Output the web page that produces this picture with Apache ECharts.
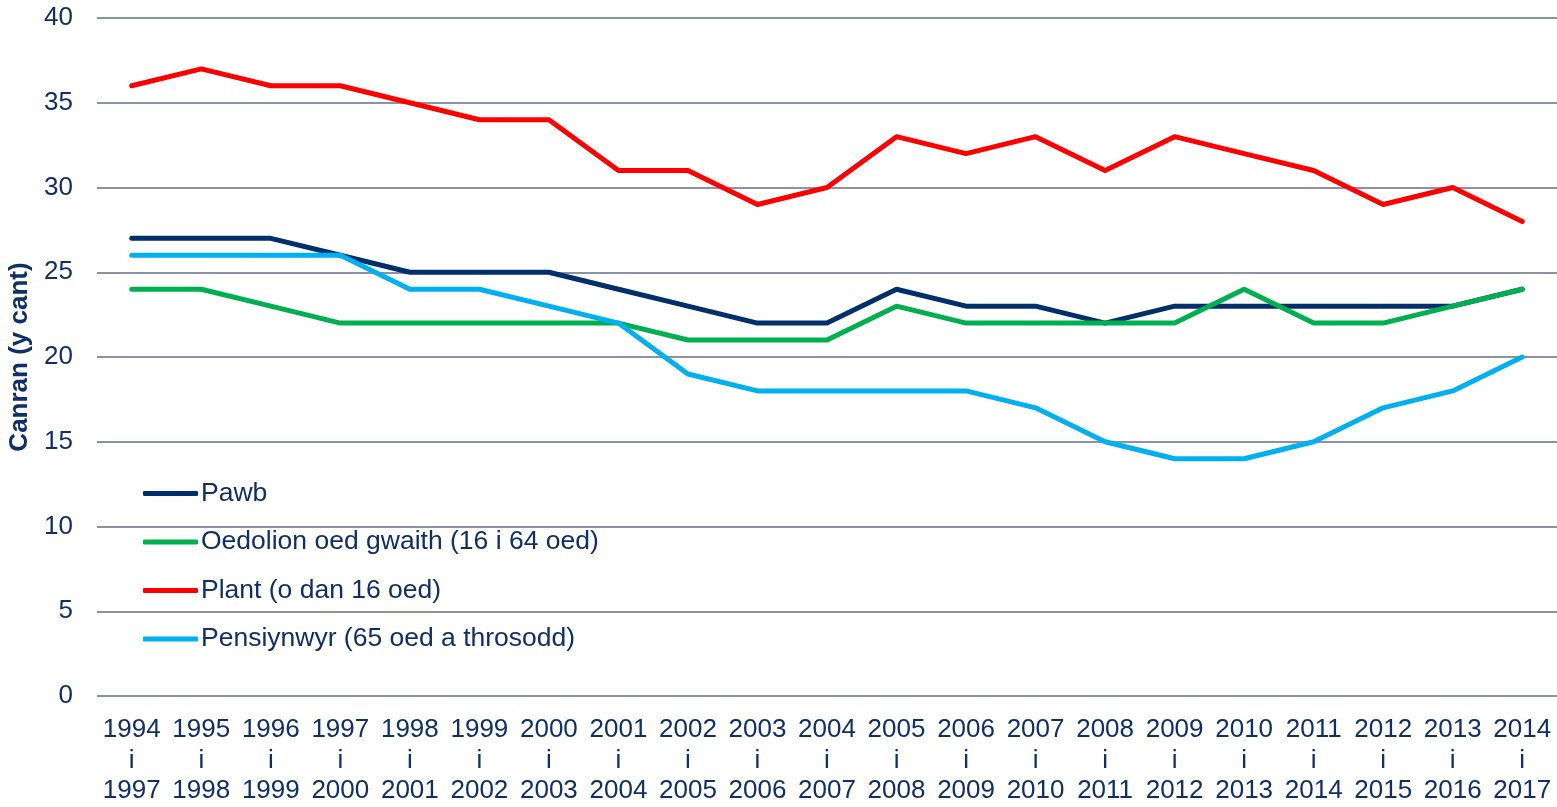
<!DOCTYPE html>
<html>
<head>
<meta charset="utf-8">
<script src="https://cdn.jsdelivr.net/npm/echarts@6/dist/echarts.min.js"></script>
<style>
  html, body { margin: 0; padding: 0; background: #fff; }
  #box { width: 1557px; height: 807px; }
</style>
</head>
<body>
<div id="box"></div>
<script>
var mychart = echarts.init(document.getElementById("box"));

var periods = ['1994\ni\n1997', '1995\ni\n1998', '1996\ni\n1999', '1997\ni\n2000', '1998\ni\n2001', '1999\ni\n2002', '2000\ni\n2003', '2001\ni\n2004', '2002\ni\n2005', '2003\ni\n2006', '2004\ni\n2007', '2005\ni\n2008', '2006\ni\n2009', '2007\ni\n2010', '2008\ni\n2011', '2009\ni\n2012', '2010\ni\n2013', '2011\ni\n2014', '2012\ni\n2015', '2013\ni\n2016', '2014\ni\n2017'];
var pawb = [27, 27, 27, 26, 25, 25, 25, 24, 23, 22, 22, 24, 23, 23, 22, 23, 23, 23, 23, 23, 24];
var oedolion = [24, 24, 23, 22, 22, 22, 22, 22, 21, 21, 21, 23, 22, 22, 22, 22, 24, 22, 22, 23, 24];
var plant = [36, 37, 36, 36, 35, 34, 34, 31, 31, 29, 30, 33, 32, 33, 31, 33, 32, 31, 29, 30, 28];
var pensiynwyr = [26, 26, 26, 26, 24, 24, 23, 22, 19, 18, 18, 18, 18, 17, 15, 14, 14, 15, 17, 18, 20];

var textColor = '#0f2f6b';
var gridColor = '#8d91a8';

function lineSeries(name, color, data) {
    return {
        name: name,
        type: 'line',
        symbol: 'none',
        smooth: false,
        lineStyle: { color: color, width: 5, cap: 'round', join: 'round' },
        itemStyle: { color: color },
        data: data
    };
}

var options = {
    animation: false,
    textStyle: { fontFamily: 'Liberation Sans, Arial, sans-serif' },
    grid: {
        left: 97,
        right: 0,
        top: 18,
        bottom: 111,
        outerBoundsMode: 'none'
    },
    legend: {
        orient: 'vertical',
        left: 138,
        top: 475,
        itemWidth: 55,
        itemHeight: 5,
        itemGap: 21.5,
        icon: 'roundRect',
        textStyle: { color: textColor, fontSize: 26.5, padding: [0, 0, 0, -2] },
        data: ['Pawb', 'Oedolion oed gwaith (16 i 64 oed)', 'Plant (o dan 16 oed)', 'Pensiynwyr (65 oed a throsodd)']
    },
    xAxis: {
        type: 'category',
        boundaryGap: true,
        data: periods,
        axisLine: { show: false },
        axisTick: { show: false },
        axisLabel: {
            color: textColor,
            fontSize: 26,
            lineHeight: 30.5,
            margin: 19,
            interval: 0
        }
    },
    yAxis: {
        type: 'value',
        min: 0,
        max: 40,
        interval: 5,
        name: 'Canran (y cant)',
        nameLocation: 'middle',
        nameGap: 62,
        nameTextStyle: { color: textColor, fontSize: 26, fontWeight: 'bold' },
        axisLine: { show: false },
        axisTick: { show: false },
        axisLabel: { color: textColor, fontSize: 26, margin: 24 },
        splitLine: { lineStyle: { color: gridColor, width: 2 } }
    },
    series: [
        lineSeries('Pawb', '#002f6c', pawb),
        lineSeries('Oedolion oed gwaith (16 i 64 oed)', '#00b050', oedolion),
        lineSeries('Plant (o dan 16 oed)', '#ff0000', plant),
        lineSeries('Pensiynwyr (65 oed a throsodd)', '#00b0f0', pensiynwyr)
    ]
};

mychart.setOption(options);
</script>
</body>
</html>
